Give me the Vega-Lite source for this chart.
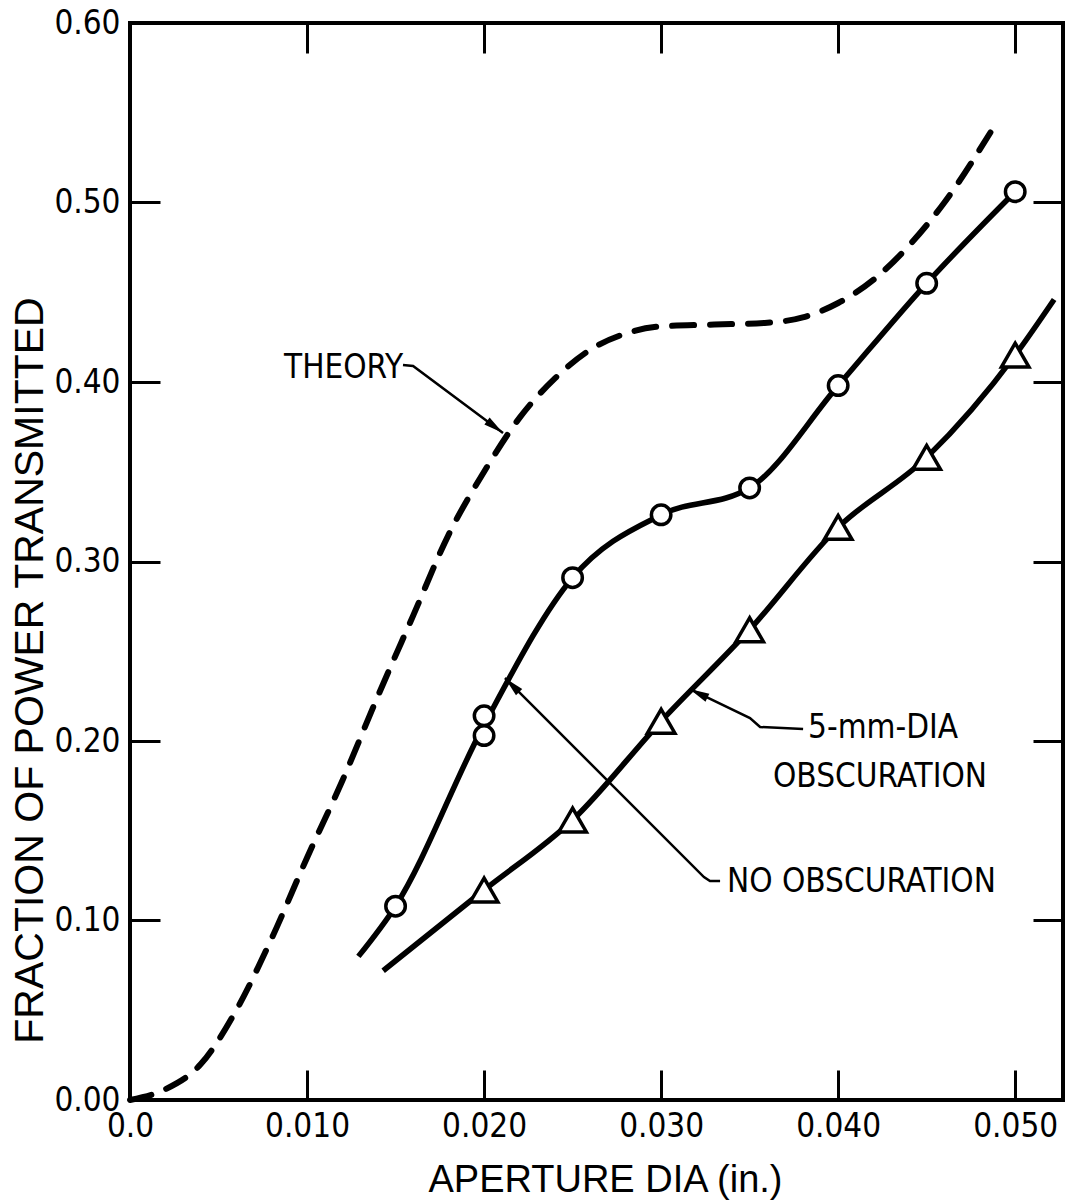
{
  "$schema": "https://vega.github.io/schema/vega-lite/v6.json",
  "width": 933,
  "height": 1077,
  "autosize": {"type": "none"},
  "padding": {"left": 130, "top": 23, "right": 4, "bottom": 104},
  "background": "white",
  "config": {
    "view": {"stroke": "black", "strokeWidth": 4},
    "axis": {
      "grid": false,
      "domain": false,
      "tickColor": "black",
      "tickWidth": 3,
      "tickSize": -30,
      "labelColor": "black",
      "labelFont": "DejaVu Sans Condensed, Liberation Sans Narrow, sans-serif",
      "labelFontSize": 33,
      "labelPadding": 40,
      "titleFont": "Liberation Sans, sans-serif",
      "titleFontSize": 38,
      "titleFontWeight": "normal",
      "titleColor": "black"
    }
  },
  "datasets": {
    "theory": [
      {"x": 0.0, "y": 0.0},
      {"x": 0.002, "y": 0.006},
      {"x": 0.004, "y": 0.02},
      {"x": 0.006, "y": 0.05},
      {"x": 0.008, "y": 0.09},
      {"x": 0.010, "y": 0.135},
      {"x": 0.012, "y": 0.178},
      {"x": 0.014, "y": 0.225},
      {"x": 0.016, "y": 0.27},
      {"x": 0.018, "y": 0.315},
      {"x": 0.020, "y": 0.35},
      {"x": 0.022, "y": 0.38},
      {"x": 0.024, "y": 0.402},
      {"x": 0.026, "y": 0.418},
      {"x": 0.028, "y": 0.427},
      {"x": 0.030, "y": 0.431},
      {"x": 0.033, "y": 0.432},
      {"x": 0.036, "y": 0.433},
      {"x": 0.038, "y": 0.436},
      {"x": 0.040, "y": 0.444},
      {"x": 0.042, "y": 0.457},
      {"x": 0.044, "y": 0.476},
      {"x": 0.046, "y": 0.5},
      {"x": 0.0486, "y": 0.539}
    ],
    "noobsCurve": [
      {"x": 0.0129, "y": 0.08},
      {"x": 0.015, "y": 0.108},
      {"x": 0.020, "y": 0.209},
      {"x": 0.025, "y": 0.291},
      {"x": 0.030, "y": 0.326},
      {"x": 0.035, "y": 0.341},
      {"x": 0.040, "y": 0.398},
      {"x": 0.045, "y": 0.455},
      {"x": 0.050, "y": 0.506}
    ],
    "obsCurve": [
      {"x": 0.0143, "y": 0.072},
      {"x": 0.020, "y": 0.117},
      {"x": 0.025, "y": 0.156},
      {"x": 0.030, "y": 0.211},
      {"x": 0.035, "y": 0.262},
      {"x": 0.040, "y": 0.319},
      {"x": 0.045, "y": 0.358},
      {"x": 0.050, "y": 0.415},
      {"x": 0.0522, "y": 0.446}
    ],
    "circles": [
      {"x": 0.015, "y": 0.108},
      {"x": 0.020, "y": 0.214},
      {"x": 0.020, "y": 0.203},
      {"x": 0.025, "y": 0.291},
      {"x": 0.030, "y": 0.326},
      {"x": 0.035, "y": 0.341},
      {"x": 0.040, "y": 0.398},
      {"x": 0.045, "y": 0.455},
      {"x": 0.050, "y": 0.506}
    ],
    "triangles": [
      {"x": 0.020, "y": 0.117},
      {"x": 0.025, "y": 0.156},
      {"x": 0.030, "y": 0.211},
      {"x": 0.035, "y": 0.262},
      {"x": 0.040, "y": 0.319},
      {"x": 0.045, "y": 0.358},
      {"x": 0.050, "y": 0.415}
    ],
    "leaders": [
      {"id": "theory", "seq": 1, "x": 0.01542, "y": 0.4095},
      {"id": "theory", "seq": 2, "x": 0.01599, "y": 0.4089},
      {"id": "theory", "seq": 3, "x": 0.02107, "y": 0.3716},
      {"id": "noobs", "seq": 1, "x": 0.02118, "y": 0.2351},
      {"id": "noobs", "seq": 2, "x": 0.03242, "y": 0.1242},
      {"id": "noobs", "seq": 3, "x": 0.03276, "y": 0.122},
      {"id": "noobs", "seq": 4, "x": 0.03333, "y": 0.122},
      {"id": "obs", "seq": 1, "x": 0.0316, "y": 0.2290},
      {"id": "obs", "seq": 2, "x": 0.03502, "y": 0.2128},
      {"id": "obs", "seq": 3, "x": 0.03559, "y": 0.2078},
      {"id": "obs", "seq": 4, "x": 0.03802, "y": 0.2067}
    ],
    "labels": [
      {"text": "THEORY", "x": 0.00870, "y": 0.4078},
      {"text": "5-mm-DIA", "x": 0.0383, "y": 0.2072},
      {"text": "OBSCURATION", "x": 0.03632, "y": 0.1799},
      {"text": "NO OBSCURATION", "x": 0.03372, "y": 0.1214}
    ]
  },
  "resolve": {"axis": {"x": "independent", "y": "independent"}},
  "layer": [
    {
      "data": {"name": "theory"},
      "mark": {"type": "line", "color": "black", "strokeWidth": 6, "strokeDash": [22, 16], "strokeCap": "round", "interpolate": "monotone"},
      "encoding": {
        "x": {
          "field": "x", "type": "quantitative",
          "scale": {"domain": [0, 0.0527], "nice": false, "zero": false},
          "axis": {
            "orient": "bottom",
            "values": [0, 0.01, 0.02, 0.03, 0.04, 0.05],
            "labelExpr": "datum.value == 0 ? '0.0' : format(datum.value, '.3f')",
            "labelFlush": false,
            "title": "APERTURE DIA (in.)",
            "titleX": 475,
            "titleY": 80,
            "titleAlign": "center",
            "titleBaseline": "middle"
          }
        },
        "y": {
          "field": "y", "type": "quantitative",
          "scale": {"domain": [0, 0.6], "nice": false, "zero": false},
          "axis": {
            "orient": "left",
            "values": [0, 0.1, 0.2, 0.3, 0.4, 0.5, 0.6],
            "format": ".2f",
            "labelFlush": false,
            "title": "FRACTION OF POWER TRANSMITTED",
            "titleFontSize": 41,
            "titleX": -100,
            "titleY": 647,
            "titleAngle": 270,
            "titleAlign": "center",
            "titleBaseline": "middle"
          }
        }
      }
    },
    {
      "data": {"name": "noobsCurve"},
      "mark": {"type": "line", "color": "black", "strokeWidth": 5.5, "interpolate": "monotone"},
      "encoding": {
        "x": {
          "field": "x", "type": "quantitative",
          "scale": {"domain": [0, 0.0527], "nice": false, "zero": false},
          "axis": {"orient": "top", "values": [0.01, 0.02, 0.03, 0.04, 0.05], "labels": false, "title": null}
        },
        "y": {
          "field": "y", "type": "quantitative",
          "scale": {"domain": [0, 0.6], "nice": false, "zero": false},
          "axis": {"orient": "right", "values": [0.1, 0.2, 0.3, 0.4, 0.5], "labels": false, "title": null}
        }
      }
    },
    {
      "data": {"name": "obsCurve"},
      "mark": {"type": "line", "color": "black", "strokeWidth": 5.5, "interpolate": "monotone"},
      "encoding": {
        "x": {"field": "x", "type": "quantitative", "scale": {"domain": [0, 0.0527], "nice": false, "zero": false}, "axis": null},
        "y": {"field": "y", "type": "quantitative", "scale": {"domain": [0, 0.6], "nice": false, "zero": false}, "axis": null}
      }
    },
    {
      "data": {"name": "leaders"},
      "mark": {"type": "line", "color": "black", "strokeWidth": 2.5},
      "encoding": {
        "x": {"field": "x", "type": "quantitative", "scale": {"domain": [0, 0.0527], "nice": false, "zero": false}, "axis": null},
        "y": {"field": "y", "type": "quantitative", "scale": {"domain": [0, 0.6], "nice": false, "zero": false}, "axis": null},
        "detail": {"field": "id"},
        "order": {"field": "seq", "type": "quantitative"}
      }
    },
    {
      "data": {"values": [{"x": 0.02107, "y": 0.3716}]},
      "mark": {"type": "point", "shape": "M0,0L-1,-0.22L-1,0.22Z", "size": 1600, "angle": 36.7, "filled": true, "color": "black", "opacity": 1},
      "encoding": {
        "x": {"field": "x", "type": "quantitative", "scale": {"domain": [0, 0.0527], "nice": false, "zero": false}, "axis": null},
        "y": {"field": "y", "type": "quantitative", "scale": {"domain": [0, 0.6], "nice": false, "zero": false}, "axis": null}
      }
    },
    {
      "data": {"values": [{"x": 0.02118, "y": 0.2351}]},
      "mark": {"type": "point", "shape": "M0,0L-1,-0.22L-1,0.22Z", "size": 1600, "angle": 225, "filled": true, "color": "black", "opacity": 1},
      "encoding": {
        "x": {"field": "x", "type": "quantitative", "scale": {"domain": [0, 0.0527], "nice": false, "zero": false}, "axis": null},
        "y": {"field": "y", "type": "quantitative", "scale": {"domain": [0, 0.6], "nice": false, "zero": false}, "axis": null}
      }
    },
    {
      "data": {"values": [{"x": 0.0316, "y": 0.2290}]},
      "mark": {"type": "point", "shape": "M0,0L-1,-0.22L-1,0.22Z", "size": 1600, "angle": 206, "filled": true, "color": "black", "opacity": 1},
      "encoding": {
        "x": {"field": "x", "type": "quantitative", "scale": {"domain": [0, 0.0527], "nice": false, "zero": false}, "axis": null},
        "y": {"field": "y", "type": "quantitative", "scale": {"domain": [0, 0.6], "nice": false, "zero": false}, "axis": null}
      }
    },
    {
      "data": {"name": "circles"},
      "mark": {"type": "point", "shape": "circle", "size": 380, "filled": false, "fill": "white", "fillOpacity": 1, "stroke": "black", "strokeWidth": 3.5, "opacity": 1},
      "encoding": {
        "x": {"field": "x", "type": "quantitative", "scale": {"domain": [0, 0.0527], "nice": false, "zero": false}, "axis": null},
        "y": {"field": "y", "type": "quantitative", "scale": {"domain": [0, 0.6], "nice": false, "zero": false}, "axis": null}
      }
    },
    {
      "data": {"name": "triangles"},
      "mark": {"type": "point", "shape": "triangle-up", "size": 760, "filled": false, "fill": "white", "fillOpacity": 1, "stroke": "black", "strokeWidth": 3.5, "opacity": 1},
      "encoding": {
        "x": {"field": "x", "type": "quantitative", "scale": {"domain": [0, 0.0527], "nice": false, "zero": false}, "axis": null},
        "y": {"field": "y", "type": "quantitative", "scale": {"domain": [0, 0.6], "nice": false, "zero": false}, "axis": null}
      }
    },
    {
      "data": {"name": "labels"},
      "mark": {"type": "text", "align": "left", "baseline": "middle", "font": "DejaVu Sans Condensed, Liberation Sans Narrow, sans-serif", "fontSize": 33, "color": "black"},
      "encoding": {
        "x": {"field": "x", "type": "quantitative", "scale": {"domain": [0, 0.0527], "nice": false, "zero": false}, "axis": null},
        "y": {"field": "y", "type": "quantitative", "scale": {"domain": [0, 0.6], "nice": false, "zero": false}, "axis": null},
        "text": {"field": "text"}
      }
    }
  ]
}
